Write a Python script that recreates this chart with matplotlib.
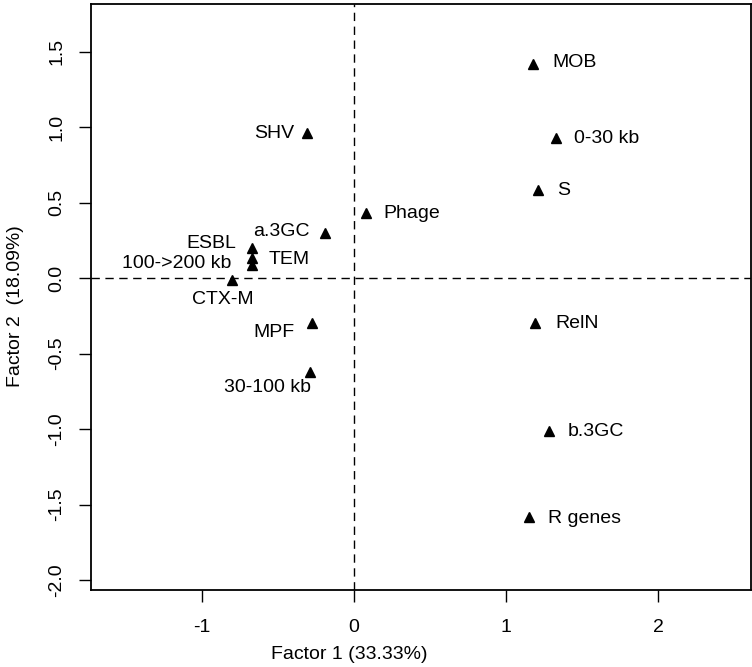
import numpy as np
import matplotlib.pyplot as plt

plt.rcParams['font.family'] = ['Liberation Sans', 'DejaVu Sans']
plt.rcParams['axes.unicode_minus'] = False

# factor coordinates
labels = ['MOB', '0-30 kb', 'S', 'SHV', 'Phage', 'a.3GC', 'ESBL', 'TEM',
          '100->200 kb', 'CTX-M', 'MPF', '30-100 kb', 'RelN', 'b.3GC', 'R genes']
factor1 = [1.175, 1.33, 1.21, -0.31, 0.08, -0.19, -0.67, -0.67,
           -0.67, -0.80, -0.28, -0.29, 1.19, 1.28, 1.15]
factor2 = [1.42, 0.93, 0.58, 0.96, 0.43, 0.30, 0.20, 0.13,
           0.085, -0.01, -0.30, -0.62, -0.30, -1.01, -1.58]

# label offsets in pixels and alignment
offsets = {
    'MOB': (20, 1, 'left'), '0-30 kb': (18, -1, 'left'), 'S': (19, 0, 'left'),
    'SHV': (-13, 0, 'right'), 'Phage': (17, 0, 'left'), 'a.3GC': (-16, 1, 'right'),
    'ESBL': (-16, 4, 'right'), 'TEM': (16, -1, 'left'), '100->200 kb': (-21, 2, 'right'),
    'CTX-M': (-10, -20, 'center'), 'MPF': (-17, -9, 'right'), '30-100 kb': (1, -16, 'right'),
    'RelN': (20, 0, 'left'), 'b.3GC': (19, -1, 'left'), 'R genes': (19, -2, 'left'),
}

fig = plt.figure(figsize=(7.52, 6.67), dpi=100)
ax = fig.add_axes([0.121, 0.1154, 0.8777, 0.8786])

ax.axhline(0, color='black', linestyle=(0, (6, 4)), linewidth=1)
ax.axvline(0, color='black', linestyle=(0, (6, 4)), linewidth=1)
ax.plot(factor1, factor2, '^', color='black', markersize=7.5)

for lab, x, y in zip(labels, factor1, factor2):
    dx, dy, ha = offsets[lab]
    ax.annotate(lab, (x, y), xytext=(dx, dy), textcoords='offset pixels',
                ha=ha, va='center', fontsize=14)

ax.set_xlim(-1.73, 2.61)
ax.set_ylim(-2.066, 1.815)
ax.set_xticks([-1, 0, 1, 2])
ax.set_yticks([-2.0, -1.5, -1.0, -0.5, 0.0, 0.5, 1.0, 1.5])
ax.set_yticklabels(['-2.0', '-1.5', '-1.0', '-0.5', '0.0', '0.5', '1.0', '1.5'],
                   rotation=90, va='center')
ax.tick_params(labelsize=14, length=8.5, width=1)
ax.tick_params(axis='x', pad=12)
ax.tick_params(axis='y', pad=10)
for s in ax.spines.values():
    s.set_linewidth(1.3)

ax.set_xlabel('Factor 1 (33.33%)', fontsize=14)
ax.set_ylabel('Factor 2  (18.09%)', fontsize=14)
ax.xaxis.set_label_coords(0.392, -0.095)
ax.yaxis.set_label_coords(-0.102, 0.485)

fig.savefig('out.png', dpi=100)
